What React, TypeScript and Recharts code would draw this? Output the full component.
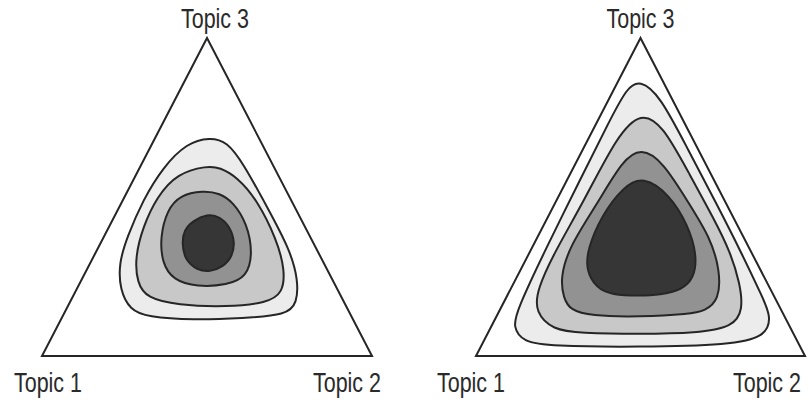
import { ScatterChart, Scatter, XAxis, YAxis } from 'recharts'

// simplex drawn in 0..100 units: Topic 1 bottom-left, Topic 2 bottom-right, Topic 3 on top
const TOPICS = ['Topic 1', 'Topic 2', 'Topic 3']
const VERTICES = [
  [0, 0],
  [100, 0],
  [50, 100],
]

// left panel: peaked near the middle
const LEFT_LEVEL_1 = [
  [50.9, 68.8], [56.1, 67.4], [60.9, 60.7], [68.2, 46.9], [75.2, 33.3], [77.6, 23.9],
  [77.3, 16.7], [74.2, 12.9], [60.9, 11.9], [45.8, 11.3], [31.8, 12.3], [26.7, 14.5],
  [23.6, 20.8], [23.3, 29.2], [25.8, 37.4], [30.6, 49.1], [36.7, 59.4], [43.9, 67.0],
]
const LEFT_LEVEL_2 = [
  [50.0, 59.8], [53.9, 59.3], [59.1, 56.3], [65.2, 49.1], [71.2, 36.5], [73.6, 27.0],
  [73.0, 19.8], [68.2, 16.7], [56.1, 15.4], [40.9, 16.0], [31.8, 18.2], [28.8, 23.0],
  [28.2, 31.1], [30.6, 40.6], [34.8, 50.0], [40.9, 57.4],
]
const LEFT_LEVEL_3 = [
  [48.8, 52.0], [53.9, 51.2], [57.9, 48.4], [62.1, 41.8], [63.9, 32.4], [62.1, 24.8],
  [56.1, 22.3], [47.0, 21.7], [39.7, 23.9], [36.4, 29.2], [35.8, 37.4], [37.9, 45.9],
  [41.8, 50.6],
]
const LEFT_LEVEL_4 = [
  [50.0, 44.6], [53.9, 43.9], [57.0, 40.6], [58.5, 35.8], [57.6, 31.1], [54.8, 28.0],
  [50.9, 26.4], [47.0, 27.0], [43.3, 30.2], [42.4, 35.5], [43.0, 39.6], [45.8, 42.6],
]

// right panel: flatter, spread towards the corners
const RIGHT_LEVEL_1 = [
  [49.8, 86.8], [55.9, 82.0], [64.5, 64.8], [73.0, 48.1], [81.0, 31.8], [87.0, 18.6],
  [89.8, 12.3], [88.0, 6.0], [77.2, 3.5], [49.8, 2.8], [22.5, 3.1], [14.3, 4.4],
  [11.2, 9.1], [12.5, 14.5], [21.0, 33.3], [31.6, 55.3], [40.7, 74.2], [45.9, 84.4],
]
const RIGHT_LEVEL_2 = [
  [50.2, 76.8], [56.8, 72.5], [64.5, 57.9], [72.5, 42.8], [77.3, 32.7], [80.2, 23.0],
  [81.2, 14.5], [78.1, 9.1], [67.2, 7.2], [49.8, 6.9], [31.6, 7.2], [23.4, 8.2],
  [18.0, 13.8], [18.5, 20.8], [24.2, 33.3], [32.5, 48.1], [43.0, 69.5],
]
const RIGHT_LEVEL_3 = [
  [50.2, 65.5], [56.8, 61.2], [65.0, 47.5], [71.1, 37.4], [74.2, 27.0], [73.9, 17.6],
  [69.6, 14.2], [65.0, 13.2], [49.8, 12.3], [34.7, 12.6], [28.6, 14.5], [26.6, 18.2],
  [25.6, 24.8], [28.6, 34.9], [37.0, 48.1], [44.5, 61.5],
]
const RIGHT_LEVEL_4 = [
  [50.8, 56.7], [59.0, 50.6], [64.4, 41.2], [67.2, 31.8], [66.3, 24.5], [62.6, 20.8],
  [55.9, 19.2], [49.8, 18.9], [41.3, 19.2], [36.5, 21.4], [33.5, 27.0], [33.8, 33.3],
  [38.2, 44.3], [44.8, 53.2],
]

const LEVEL_FILLS = ['#ececec', '#c8c8c8', '#929292', '#363636']
const INK = '#262626'

const toPoints = (pairs: number[][]) => pairs.map(([x, y]) => ({ x, y }))
const vertexPoints = VERTICES.map(([x, y], i) => ({ x, y, name: TOPICS[i] }))

const noDot = () => <g />

interface PanelProps {
  width: number
  margin: { top: number; right: number; bottom: number; left: number }
  levels: number[][][]
  labelOffsets: number[][]
}

function SimplexPanel({ width, margin, levels, labelOffsets }: PanelProps) {
  // the source labels are tall and narrow, so stretch them vertically
  const renderLabel = (props: any) => {
    const { cx, cy, payload, index } = props
    const i = typeof index === 'number' ? index : TOPICS.indexOf(payload?.name)
    const [dx, dy] = labelOffsets[i] ?? [0, 0]
    return (
      <text
        transform={`translate(${cx + dx},${cy + dy}) scale(1,1.3)`}
        x={0}
        y={0}
        textAnchor="middle"
        fontSize={21.5}
        fontFamily="'Liberation Sans', Arial, sans-serif"
        fill="#2a2a2a"
      >
        {payload?.name}
      </text>
    )
  }

  return (
    <ScatterChart width={width} height={405} margin={margin}>
      <XAxis type="number" dataKey="x" domain={[0, 100]} hide />
      <YAxis type="number" dataKey="y" domain={[0, 100]} hide />
      <Scatter
        data={vertexPoints}
        line={{ stroke: INK, strokeWidth: 2, fill: 'none' }}
        lineJointType="linearClosed"
        shape={noDot}
        isAnimationActive={false}
      />
      {levels.map((level, i) => (
        <Scatter
          key={i}
          data={toPoints(level)}
          line={{ stroke: INK, strokeWidth: 2, fill: LEVEL_FILLS[i] }}
          lineJointType="basisClosed"
          shape={noDot}
          isAnimationActive={false}
        />
      ))}
      <Scatter data={vertexPoints} shape={renderLabel} isAnimationActive={false} />
    </ScatterChart>
  )
}

export default function App() {
  return (
    <div style={{ position: 'absolute', left: 0, top: 0, width: 809, height: 405, display: 'flex', background: '#fff' }}>
      <SimplexPanel
        width={404}
        margin={{ top: 38, right: 32, bottom: 49, left: 42 }}
        levels={[LEFT_LEVEL_1, LEFT_LEVEL_2, LEFT_LEVEL_3, LEFT_LEVEL_4]}
        labelOffsets={[[6, 36], [-25, 36], [8, -10]]}
      />
      <SimplexPanel
        width={405}
        margin={{ top: 38, right: 4, bottom: 49, left: 72 }}
        levels={[RIGHT_LEVEL_1, RIGHT_LEVEL_2, RIGHT_LEVEL_3, RIGHT_LEVEL_4]}
        labelOffsets={[[-5, 36], [-38, 36], [0, -10]]}
      />
    </div>
  )
}
